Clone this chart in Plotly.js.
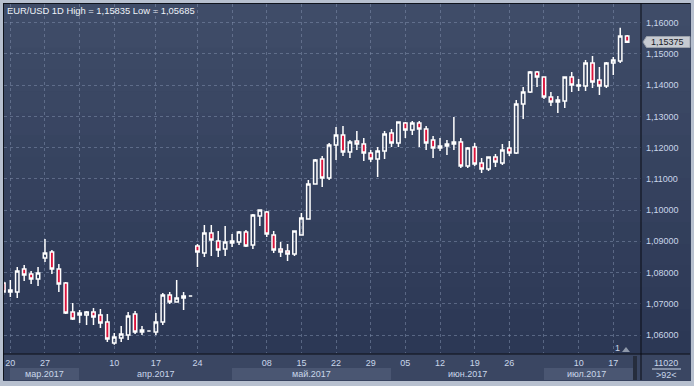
<!DOCTYPE html>
<html><head><meta charset="utf-8">
<script src="https://cdn.plot.ly/plotly-3.0.1.min.js"></script>
<style>html,body{margin:0;padding:0;background:#b7c0cf;overflow:hidden}#chart{width:694px;height:386px}</style>
</head><body><div id="chart"></div>
<script>
// ---------------- data ----------------
const dates = ['2017-03-17','2017-03-20','2017-03-21','2017-03-22','2017-03-23','2017-03-24','2017-03-27','2017-03-28','2017-03-29','2017-03-30','2017-03-31','2017-04-03','2017-04-04','2017-04-05','2017-04-06','2017-04-07','2017-04-10','2017-04-11','2017-04-12','2017-04-13','2017-04-14','2017-04-16','2017-04-17','2017-04-18','2017-04-19','2017-04-20','2017-04-21','2017-04-23','2017-04-24','2017-04-25','2017-04-26','2017-04-27','2017-04-28','2017-05-01','2017-05-02','2017-05-03','2017-05-04','2017-05-05','2017-05-08','2017-05-09','2017-05-10','2017-05-11','2017-05-12','2017-05-15','2017-05-16','2017-05-17','2017-05-18','2017-05-19','2017-05-22','2017-05-23','2017-05-24','2017-05-25','2017-05-26','2017-05-29','2017-05-30','2017-05-31','2017-06-01','2017-06-02','2017-06-05','2017-06-06','2017-06-07','2017-06-08','2017-06-09','2017-06-12','2017-06-13','2017-06-14','2017-06-15','2017-06-16','2017-06-19','2017-06-20','2017-06-21','2017-06-22','2017-06-23','2017-06-26','2017-06-27','2017-06-28','2017-06-29','2017-06-30','2017-07-03','2017-07-04','2017-07-05','2017-07-06','2017-07-07','2017-07-10','2017-07-11','2017-07-12','2017-07-13','2017-07-14','2017-07-17','2017-07-18','2017-07-19'];
const openP  = [1.07665,1.07377,1.07377,1.08114,1.07954,1.07793,1.08466,1.08658,1.08114,1.07665,1.06737,1.06641,1.06641,1.06737,1.06641,1.06417,1.05744,1.05904,1.06000,1.06673,1.06096,1.06128,1.06096,1.06417,1.07281,1.07057,1.07185,1.07249,1.08850,1.08626,1.09266,1.09010,1.08754,1.08946,1.08978,1.09298,1.08882,1.09811,1.09939,1.09202,1.08754,1.08690,1.08594,1.09202,1.09715,1.10835,1.11636,1.11027,1.12084,1.12404,1.11860,1.12212,1.12116,1.11828,1.11636,1.11892,1.12468,1.12148,1.12788,1.12564,1.12788,1.12596,1.12244,1.11988,1.12052,1.12116,1.12180,1.11412,1.12020,1.11508,1.11316,1.11700,1.11508,1.11988,1.11828,1.13397,1.13781,1.14422,1.14262,1.13621,1.13461,1.13493,1.14262,1.13973,1.13973,1.14710,1.14165,1.13973,1.14710,1.14774,1.15574];
const highP  = [1.07729,1.07761,1.08178,1.08242,1.08050,1.08178,1.09074,1.08722,1.08274,1.07697,1.07025,1.06801,1.06769,1.06865,1.06833,1.06673,1.06064,1.06289,1.06737,1.06769,1.06289,1.06128,1.06705,1.07345,1.07377,1.07761,1.07377,1.07249,1.08914,1.09523,1.09523,1.09330,1.09490,1.09234,1.09330,1.09362,1.09875,1.10003,1.09971,1.09330,1.08978,1.08914,1.09330,1.09907,1.10963,1.11636,1.11732,1.12148,1.12661,1.12693,1.12244,1.12532,1.12308,1.11924,1.12020,1.12532,1.12596,1.12820,1.12820,1.12853,1.12853,1.12693,1.12372,1.12308,1.12244,1.12981,1.12308,1.12020,1.12148,1.11668,1.11700,1.11796,1.12116,1.12212,1.13525,1.13941,1.14454,1.14454,1.14262,1.13781,1.13653,1.14262,1.14422,1.14197,1.14806,1.14934,1.14582,1.14742,1.14902,1.15835,1.15606];
const lowP   = [1.07281,1.07217,1.07185,1.07729,1.07633,1.07569,1.08338,1.07954,1.07377,1.06673,1.06481,1.06385,1.06321,1.06321,1.06224,1.05776,1.05685,1.05776,1.05840,1.06032,1.06000,1.06128,1.06000,1.06321,1.06993,1.07057,1.06801,1.07249,1.08178,1.08498,1.08530,1.08498,1.08530,1.08818,1.08882,1.08818,1.08754,1.09490,1.09138,1.08626,1.08498,1.08370,1.08530,1.09202,1.09715,1.10835,1.10739,1.10963,1.11604,1.11732,1.11668,1.11924,1.11572,1.11540,1.11059,1.11636,1.12020,1.12020,1.12308,1.12404,1.12020,1.11924,1.11668,1.11892,1.11764,1.11924,1.11348,1.11348,1.11412,1.11188,1.11252,1.11380,1.11444,1.11732,1.11796,1.12917,1.13749,1.13941,1.13557,1.13333,1.13109,1.13269,1.13781,1.13813,1.13813,1.13909,1.13685,1.13909,1.14326,1.14710,1.15350];
const closeP = [1.07377,1.07441,1.08050,1.07922,1.07793,1.07986,1.08626,1.08114,1.07633,1.06705,1.06513,1.06705,1.06737,1.06577,1.06385,1.05872,1.05936,1.06032,1.06609,1.06096,1.06160,1.06128,1.06417,1.07281,1.07057,1.07185,1.07249,1.07249,1.08658,1.09266,1.09042,1.08722,1.08978,1.09010,1.09298,1.08850,1.09843,1.10003,1.09234,1.08722,1.08658,1.08594,1.09330,1.09747,1.10835,1.11604,1.11027,1.12084,1.12404,1.11860,1.12180,1.12116,1.11828,1.11636,1.11892,1.12436,1.12148,1.12820,1.12564,1.12788,1.12596,1.12148,1.11988,1.12052,1.12116,1.12180,1.11412,1.11988,1.11476,1.11316,1.11700,1.11540,1.11924,1.11828,1.13397,1.13781,1.14422,1.14262,1.13621,1.13461,1.13525,1.14262,1.14005,1.14005,1.14710,1.14101,1.13973,1.14710,1.14806,1.15574,1.15375];

const tickDates  = ['2017-03-20','2017-03-27','2017-04-03','2017-04-10','2017-04-17','2017-04-24','2017-05-01','2017-05-08','2017-05-15','2017-05-22','2017-05-29','2017-06-05','2017-06-12','2017-06-19','2017-06-26','2017-07-03','2017-07-10','2017-07-17'];
const tickLabels = ['20','27','','10','17','24','','08','15','22','29','05','12','19','26','','10','17'];
const monthLabels = ['мар.2017','апр.2017','май.2017','июн.2017','июл.2017'];
const priceTicks = [1.06,1.07,1.08,1.09,1.10,1.11,1.12,1.13,1.14,1.15,1.16];
const symbol = 'EUR/USD 1D';
const highVal = '1,15835', lowVal = '1,05685';
const lastPrice = '1,15375';
const footerTop = '11020', footerBottom = '>92<';

// ---------------- layout helpers (pixel -> paper) ----------------
const L = 4, R = 641, T = 4, B = 353;
const X = p => (p - L) / (R - L);
const Y = p => (B - p) / (B - T);
const rect = (x0, y0, x1, y1, color, layer) => ({type:'rect', xref:'paper', yref:'paper', x0:X(x0), x1:X(x1), y0:Y(y0), y1:Y(y1), fillcolor:color, line:{width:0}, layer: layer || 'below'});
const hline = (x0, x1, y, color) => ({type:'line', xref:'paper', yref:'paper', x0:X(x0), x1:X(x1), y0:Y(y), y1:Y(y), line:{color:color, width:1}, layer:'above'});
const vline = (x, y0, y1, color) => ({type:'line', xref:'paper', yref:'paper', x0:X(x), x1:X(x), y0:Y(y0), y1:Y(y1), line:{color:color, width:1}, layer:'above'});

const shapes = [];
shapes.push(rect(3, 3, 691, 381, '#36425e'));
// vertical gradient bands in the chart + price panel
const topC = [63,76,104], botC = [44,56,85];
const nb = 16;
for (let k = 0; k < nb; k++) {
  const t = k / (nb - 1);
  const c = topC.map((v, j) => Math.round(v + (botC[j] - v) * t));
  const y0 = 4 + (349 / nb) * k, y1 = 4 + (349 / nb) * (k + 1);
  shapes.push(rect(4, y0, 690, y1 + 0.5, `rgb(${c[0]},${c[1]},${c[2]})`));
}
// bottom date panel
shapes.push(rect(4, 354, 690, 380, '#3a4662'));
[[10,79],[232,391],[544,634]].forEach(s => shapes.push(rect(s[0], 368, s[1], 380, '#4a5672')));
shapes.push(rect(633, 356, 637, 380, '#262d3d'));
// frame lines
shapes.push(hline(3, 690, 3.5, '#0f131c'));
shapes.push(vline(3.5, 3, 380, '#0f131c'));
shapes.push(hline(3, 690, 354, '#0a0d14'));
shapes.push(vline(641, 3, 380, '#0a0d14'));
shapes.push(hline(652, 681, 369, '#c9d6ea'));
// last price tag
const tag = `M ${X(643)} ${Y(42)} L ${X(646.5)} ${Y(36.5)} L ${X(690)} ${Y(36.5)} L ${X(690)} ${Y(47.5)} L ${X(646.5)} ${Y(47.5)} Z`;
shapes.push({type:'path', xref:'paper', yref:'paper', path:tag, fillcolor:'#c6cad1', line:{color:'#9aa0aa', width:1}, layer:'above'});
// small marker triangle
const tri = `M ${X(622)} ${Y(352)} L ${X(630)} ${Y(352)} L ${X(626)} ${Y(347)} Z`;
shapes.push({type:'path', xref:'paper', yref:'paper', path:tri, fillcolor:'#8e98aa', line:{width:0}, layer:'above'});

const font = 'Liberation Sans, Arial, sans-serif';
const lab = '#c9d6ea';
const annotations = [
  {xref:'paper', yref:'paper', x:X(5), y:Y(11), xanchor:'left', yanchor:'middle', showarrow:false,
   text:`${symbol} High = ${highVal} Low = ${lowVal}`, font:{family:font, size:9.4, color:'#eef2f8'}},
  {xref:'paper', yref:'paper', x:X(667), y:Y(42.3), xanchor:'center', yanchor:'middle', showarrow:false,
   text:lastPrice, font:{family:font, size:9, color:'#15181f'}},
  {xref:'paper', yref:'paper', x:X(666), y:Y(362.5), xanchor:'center', yanchor:'middle', showarrow:false,
   text:footerTop, font:{family:font, size:9, color:lab}},
  {xref:'paper', yref:'paper', x:X(666), y:Y(375), xanchor:'center', yanchor:'middle', showarrow:false,
   text:footerBottom, font:{family:font, size:9, color:lab}},
  {xref:'paper', yref:'paper', x:X(617), y:Y(348), xanchor:'center', yanchor:'middle', showarrow:false,
   text:'1', font:{family:font, size:9, color:lab}}
];
const monthCenters = [44.5, 155.5, 311.5, 467.5, 586];
monthLabels.forEach((m, k) => annotations.push({xref:'paper', yref:'paper', x:X(monthCenters[k]), y:Y(374), xanchor:'center', yanchor:'middle', showarrow:false, text:m, font:{family:font, size:9, color:lab}}));

const trace = {
  type:'candlestick', x:dates, open:openP, high:highP, low:lowP, close:closeP,
  increasing:{line:{color:'#ffffff', width:1.5}, fillcolor:'rgba(0,0,0,0)'},
  decreasing:{line:{color:'#ffffff', width:1.5}, fillcolor:'#dc143c'},
  whiskerwidth:0, hoverinfo:'skip', showlegend:false
};

const layout = {
  width:694, height:386,
  margin:{l:L, r:694 - R, t:T, b:386 - B, pad:0},
  paper_bgcolor:'#b7c0cf', plot_bgcolor:'rgba(0,0,0,0)',
  separators:', ',
  boxgap:0.3,
  showlegend:false,
  xaxis:{type:'category', range:[0.087, 92.0], tickvals:tickDates, ticktext:tickLabels,
    showgrid:true, gridcolor:'rgba(125,140,170,0.55)', griddash:'3px,3px', gridwidth:1,
    showline:false, zeroline:false, ticks:'', ticklabelstandoff:3,
    tickfont:{family:font, size:9, color:lab}, rangeslider:{visible:false}, fixedrange:true},
  yaxis:{side:'right', range:[1.05424, 1.16599], tickvals:priceTicks, tickformat:'.5f',
    showgrid:true, gridcolor:'rgba(125,140,170,0.55)', griddash:'3px,3px', gridwidth:1,
    showline:false, zeroline:false, ticks:'', ticklabelstandoff:4,
    tickfont:{family:font, size:9, color:lab}, fixedrange:true},
  shapes:shapes, annotations:annotations
};

Plotly.newPlot('chart', [trace], layout, {staticPlot:true, displayModeBar:false});
</script>
</body></html>
